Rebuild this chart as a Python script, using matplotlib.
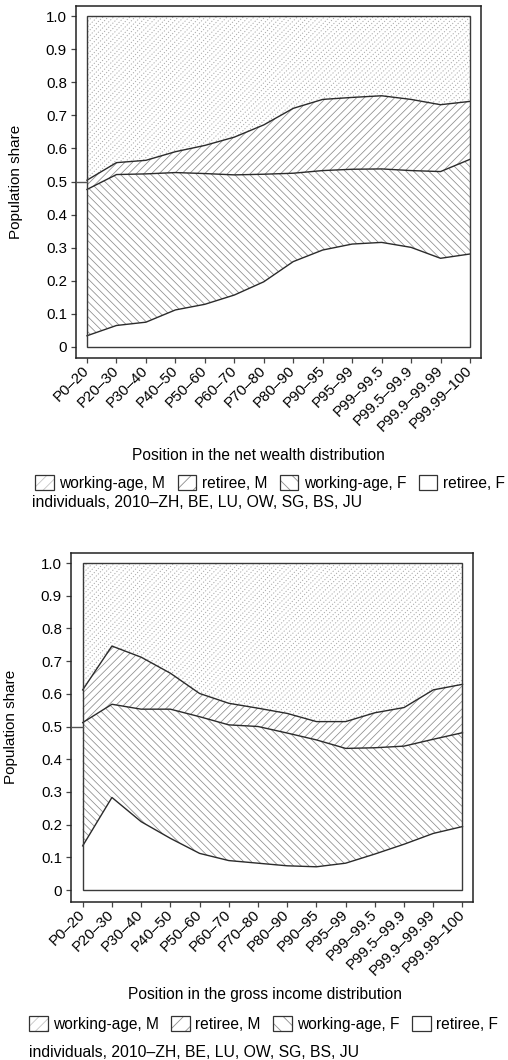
import numpy as np
import matplotlib
matplotlib.use('Agg')
import matplotlib.pyplot as plt
from matplotlib.patches import Patch, Rectangle
from matplotlib.collections import LineCollection

# percentile groups along the x axis
categories = ['P0–20', 'P20–30', 'P30–40', 'P40–50', 'P50–60', 'P60–70', 'P70–80',
              'P80–90', 'P90–95', 'P95–99', 'P99–99.5', 'P99.5–99.9', 'P99.9–99.99', 'P99.99–100']

# population shares by group, net wealth distribution
wealth_retiree_f = [0.034, 0.065, 0.075, 0.112, 0.129, 0.157, 0.197, 0.258, 0.293, 0.311, 0.316, 0.301, 0.268, 0.281]
wealth_working_f = [0.442, 0.456, 0.448, 0.415, 0.395, 0.363, 0.325, 0.267, 0.240, 0.226, 0.222, 0.232, 0.262, 0.286]
wealth_retiree_m = [0.028, 0.036, 0.041, 0.063, 0.085, 0.114, 0.149, 0.196, 0.215, 0.217, 0.221, 0.215, 0.202, 0.175]
wealth_working_m = [0.496, 0.443, 0.436, 0.410, 0.391, 0.366, 0.329, 0.279, 0.252, 0.246, 0.241, 0.252, 0.268, 0.258]

# population shares by group, gross income distribution
income_retiree_f = [0.135, 0.283, 0.209, 0.158, 0.112, 0.090, 0.082, 0.074, 0.071, 0.082, 0.110, 0.140, 0.173, 0.194]
income_working_f = [0.377, 0.285, 0.344, 0.395, 0.418, 0.415, 0.418, 0.406, 0.388, 0.351, 0.325, 0.300, 0.288, 0.287]
income_retiree_m = [0.100, 0.178, 0.159, 0.110, 0.071, 0.066, 0.056, 0.060, 0.056, 0.082, 0.107, 0.118, 0.151, 0.148]
income_working_m = [0.388, 0.254, 0.288, 0.337, 0.399, 0.429, 0.444, 0.460, 0.485, 0.485, 0.458, 0.442, 0.388, 0.371]

legend_labels = ['working-age, M', 'retiree, M', 'working-age, F', 'retiree, F']
yticks = [0, 0.1, 0.2, 0.3, 0.4, 0.5, 0.6, 0.7, 0.8, 0.9, 1.0]
ytick_labels = ['0', '0.1', '0.2', '0.3', '0.4', '0.5', '0.6', '0.7', '0.8', '0.9', '1.0']
caption = 'individuals, 2010–ZH, BE, LU, OW, SG, BS, JU'

plt.rcParams['font.family'] = ['Liberation Sans', 'DejaVu Sans']
plt.rcParams['hatch.linewidth'] = 0.6
plt.rcParams['hatch.color'] = '#8c8c8c'

HATCH_GRAY = '#8c8c8c'
LINE_DARK = '#2b2b2b'
W, H = 508, 1060

fig = plt.figure(figsize=(W / 100, H / 100), dpi=100)


def hatch_lines(ax, poly, spacing, direction=1, color=HATCH_GRAY, style='-', lw=0.55):
    # 45 degree lines (in pixels) clipped to the filled band
    bw, bh = ax.bbox.width, ax.bbox.height
    rise = bh / bw
    if direction > 0:
        segs = [[(c, 0), (c + rise, 1)] for c in np.arange(-rise, 1.0, spacing / bw)]
    else:
        segs = [[(c, 1), (c + rise, 0)] for c in np.arange(-rise, 1.0, spacing / bw)]
    lc = LineCollection(segs, colors=color, linewidths=lw, linestyles=[style],
                        transform=ax.transAxes, zorder=1.5)
    lc.set_clip_path(poly.get_paths()[0], ax.transData)
    ax.add_collection(lc)


def draw_panel(box, inner, groups, xlabel, xlabel_pos, ylabel_x):
    # box: outer frame in pixels (left, top, right, bottom); inner: data frame in pixels
    l, t, r, b = box
    il, it, ir, ib = inner
    ax = fig.add_axes([l / W, 1 - b / H, (r - l) / W, (b - t) / H])
    n = len(categories)
    x = np.arange(n)
    xpx = (n - 1) / (ir - il)
    ypx = 1.0 / (ib - it)
    ax.set_xlim(-(il - l) * xpx, (n - 1) + (r - ir) * xpx)
    ax.set_ylim(-(b - ib) * ypx, 1 + (it - t) * ypx)

    tops = np.cumsum(np.vstack(groups), axis=0)
    bottoms = np.vstack([np.zeros(n), tops[:-1]])
    polys = []
    for k in range(4):
        p = ax.fill_between(x, bottoms[k], tops[k], facecolor='white', linewidth=0, zorder=1)
        polys.append(p)
    hatch_lines(ax, polys[1], 7.6, direction=-1)
    hatch_lines(ax, polys[2], 7.6, direction=1)
    hatch_lines(ax, polys[3], 5.4, direction=1, color='#a6a6a6', style=(0, (1.2, 1.8)), lw=0.7)
    for k in range(3):
        ax.plot(x, tops[k], color=LINE_DARK, lw=1.0, zorder=3)

    ax.add_patch(Rectangle((x[0], 0), x[-1] - x[0], 1, fill=False, edgecolor='#3a3a3a',
                           lw=1.0, zorder=4))
    ax.plot([ax.get_xlim()[0], x[0]], [0.5, 0.5], color='#555555', lw=1.0, zorder=4, clip_on=False)

    for s in ax.spines.values():
        s.set_color('#222222')
        s.set_linewidth(1.1)

    ax.set_yticks(yticks)
    ax.set_yticklabels(ytick_labels, fontsize=10.8)
    ax.set_xticks(x)
    ax.set_xticklabels(categories, fontsize=10.8, rotation=45, ha='right', va='center',
                       rotation_mode='anchor')
    ax.tick_params(axis='both', direction='out', length=3.5, width=0.9, color='#444444')
    ax.tick_params(axis='y', pad=3)
    ax.tick_params(axis='x', pad=4)
    ax.set_ylabel('Population share', fontsize=11)
    ax.yaxis.set_label_coords((ylabel_x - l) / (r - l), 0.5)

    fig.text(xlabel_pos[0] / W, 1 - xlabel_pos[1] / H, xlabel, fontsize=11.2,
             ha='center', va='center')
    return ax


def add_legend(center, caption_pos):
    styles = [('///', '#c4c4c4'), ('//', HATCH_GRAY), ('\\\\', HATCH_GRAY), (None, HATCH_GRAY)]
    handles = []
    for hatch, col in styles:
        fill = Patch(facecolor='white', edgecolor=col, hatch=hatch, lw=0)
        frame = Patch(facecolor='none', edgecolor='#333333', lw=0.9)
        handles.append((fill, frame))
    fig.legend(handles, legend_labels, loc='center', bbox_to_anchor=(center[0] / W, 1 - center[1] / H),
               ncol=4, frameon=False, fontsize=11.2, handlelength=1.2, handleheight=1.1,
               handletextpad=0.35, columnspacing=0.8, borderpad=0, borderaxespad=0)
    fig.text(caption_pos[0] / W, 1 - caption_pos[1] / H, caption, fontsize=11.3,
             ha='left', va='center')


draw_panel((76, 6, 481, 358), (87, 16, 470, 347),
           [wealth_retiree_f, wealth_working_f, wealth_retiree_m, wealth_working_m],
           'Position in the net wealth distribution', (258.7, 455), 23)
add_legend((270, 482.7), (32, 502.7))

draw_panel((71, 552.7, 473.3, 901.7), (82.7, 563, 462.5, 890),
           [income_retiree_f, income_working_f, income_retiree_m, income_working_m],
           'Position in the gross income distribution', (265.3, 995), 18)
add_legend((263.5, 1024), (29, 1052.7))

fig.savefig('out.png', dpi=100, facecolor='white')
